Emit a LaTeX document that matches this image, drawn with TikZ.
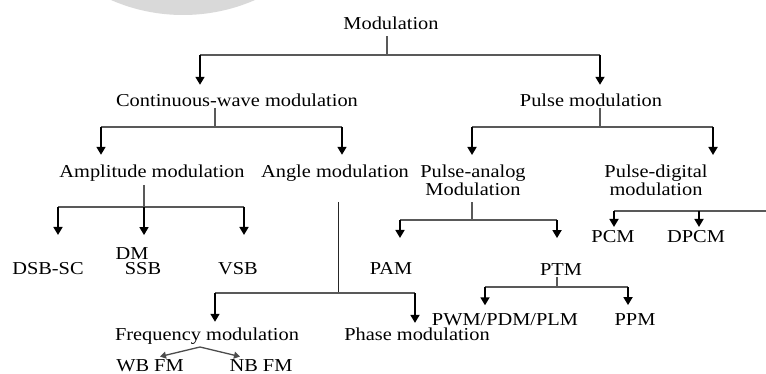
\documentclass[tikz,border=0pt]{standalone}
\usepackage{fontspec}
\usepackage{graphicx}
\setmainfont{Liberation Serif}
\usetikzlibrary{arrows.meta}
\newcommand{\sxt}[1]{\scalebox{1.12}[1]{#1}}
\begin{document}
\begin{tikzpicture}[x=1pt,y=-1pt,
  lbl/.style={inner sep=0pt,outer sep=0pt,font=\fontsize{18.2}{18}\selectfont,text=black},
  conn/.style={draw=black!65,line width=1.2pt},
  arr/.style={draw=black,line width=1.7pt,-{Triangle[length=8pt,width=9pt]}},
  fork/.style={draw=black!70,line width=1.3pt,-{Triangle[length=6pt,width=7pt]}}]
\useasboundingbox (0,0) rectangle (766,374);
% watermark arc
\fill[black!15] (183,-165) circle (180);
% nodes
\node[lbl,anchor=base] (mod) at (391,30) {\sxt{Modulation}};
\node[lbl,anchor=base] (cw) at (237,107) {\sxt{Continuous-wave modulation}};
\node[lbl,anchor=base] (pm) at (591,107) {\sxt{Pulse modulation}};
\node[lbl,anchor=base] (am) at (152,178) {\sxt{Amplitude modulation}};
\node[lbl,anchor=base] (ang) at (335,178) {\sxt{Angle modulation}};
\node[lbl,anchor=north,align=center] (pa) at (473,164.6) {\sxt{Pulse-analog}\\\sxt{Modulation}};
\node[lbl,anchor=north,align=center] (pd) at (656,164.6) {\sxt{Pulse-digital}\\\sxt{modulation}};
\node[lbl,anchor=base] (dm) at (132,259) {\sxt{DM}};
\node[lbl,anchor=base] (dsb) at (48,275) {\sxt{DSB-SC}};
\node[lbl,anchor=base] (ssb) at (143,275) {\sxt{SSB}};
\node[lbl,anchor=base] (vsb) at (238,275) {\sxt{VSB}};
\node[lbl,anchor=base] (pam) at (391,275) {\sxt{PAM}};
\node[lbl,anchor=base] (ptm) at (561,276) {\sxt{PTM}};
\node[lbl,anchor=base] (pcm) at (613,243) {\sxt{PCM}};
\node[lbl,anchor=base] (dpcm) at (696,243) {\sxt{DPCM}};
\node[lbl,anchor=base] (pwm) at (505,325) {\sxt{PWM/PDM/PLM}};
\node[lbl,anchor=base] (ppm) at (635,325) {\sxt{PPM}};
\node[lbl,anchor=base] (fm) at (207,340) {\sxt{Frequency modulation}};
\node[lbl,anchor=base] (phm) at (417,340) {\sxt{Phase modulation}};
\node[lbl,anchor=base] (wb) at (150,371.5) {\sxt{WB FM}};
\node[lbl,anchor=base] (nb) at (261,371.5) {\sxt{NB FM}};
% junction coordinates
\coordinate (jmod) at (387,55);
\coordinate (mL) at (200,55);
\coordinate (mR) at (600,55);
\coordinate (jcw) at (215,127);
\coordinate (cL) at (101,127);
\coordinate (cR) at (342,127);
\coordinate (jpm) at (600,127);
\coordinate (pL) at (472,127);
\coordinate (pR) at (713,127);
\coordinate (jam) at (144,207);
\coordinate (aL) at (58,207);
\coordinate (aR) at (244,207);
\coordinate (gJ) at (338,293);
\coordinate (gL) at (215,293);
\coordinate (gR) at (415,293);
\coordinate (jpa) at (472,220);
\coordinate (paL) at (400,220);
\coordinate (paR) at (557,220);
\coordinate (pdL) at (614,211);
\coordinate (pdM) at (699,211);
\coordinate (pdE) at (766,211);
\coordinate (jptm) at (557,287);
\coordinate (tL) at (485,287);
\coordinate (tR) at (628,287);
\coordinate (fk) at (200,347);
% Modulation
\draw[conn,shorten <=6pt] (jmod |- mod.south) -- (jmod);
\draw[conn] (mL) -- (mR);
\draw[arr,shorten >=9.6pt] (mL) -- (mL |- cw.north);
\draw[arr,shorten >=9.6pt] (mR) -- (mR |- pm.north);
% Continuous-wave
\draw[conn,shorten <=1pt] (jcw |- cw.south) -- (jcw);
\draw[conn] (cL) -- (cR);
\draw[arr,shorten >=10.6pt] (cL) -- (cL |- am.north);
\draw[arr,shorten >=10.6pt] (cR) -- (cR |- ang.north);
% Pulse
\draw[conn,shorten <=1pt] (jpm |- pm.south) -- (jpm);
\draw[conn] (pL) -- (pR);
\draw[arr,shorten >=9.6pt] (pL) -- (pL |- pa.north);
\draw[arr,shorten >=9.6pt] (pR) -- (pR |- pd.north);
% Amplitude
\draw[conn,shorten <=3pt] (jam |- am.south) -- (jam);
\draw[conn] (aL) -- (aR);
\draw[arr,shorten >=28pt] (aL) -- (aL |- dsb.north);
\draw[arr,shorten >=12pt] (jam) -- (jam |- dm.north);
\draw[arr,shorten >=28pt] (aR) -- (aR |- vsb.north);
% Angle
\draw[conn,line width=1pt,draw=black!85,shorten <=20pt] (gJ |- ang.south) -- (gJ);
\draw[conn] (gL) -- (gR);
\draw[arr,shorten >=5.6pt] (gL) -- (gL |- fm.north);
\draw[arr,shorten >=4.5pt] (gR) -- (gR |- phm.north);
% Frequency
\draw[fork] (fk) -- ([xshift=10pt,yshift=3pt]wb.north);
\draw[fork] (fk) -- ([xshift=-21pt,yshift=3pt]nb.north);
% Pulse-analog
\draw[conn,shorten <=7pt] (jpa |- pa.south) -- (jpa);
\draw[conn] (paL) -- (paR);
\draw[arr,shorten >=25pt] (paL) -- (paL |- pam.north);
\draw[arr,shorten >=26pt] (paR) -- (paR |- ptm.north);
% PTM
\draw[conn,shorten <=1pt] (jptm |- ptm.south) -- (jptm);
\draw[conn] (tL) -- (tR);
\draw[arr,shorten >=7.7pt] (tL) -- (tL |- pwm.north);
\draw[arr,shorten >=8pt] (tR) -- (tR |- ppm.north);
% Pulse-digital
\draw[conn] (pdL) -- (pdE);
\draw[arr,shorten >=4pt] (pdL) -- (pdL |- pcm.north);
\draw[arr,shorten >=4pt] (pdM) -- (pdM |- dpcm.north);
\end{tikzpicture}
\end{document}
